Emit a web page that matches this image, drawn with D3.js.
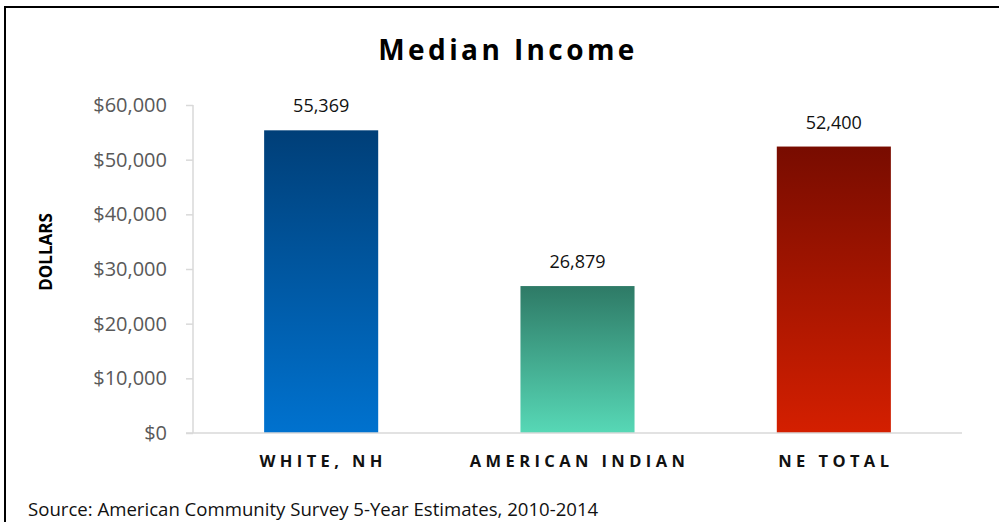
<!DOCTYPE html>
<html>
<head>
<meta charset="utf-8">
<script src="https://cdn.jsdelivr.net/npm/d3@7"></script>
<style>
  body { margin: 0; background: #fff; }
  svg { display: block; font-family: "Open Sans", "Noto Sans", sans-serif; }
</style>
</head>
<body>
<svg id="chart" width="999" height="522"></svg>
<script>
// chart data
var categories = ['WHITE, NH', 'AMERICAN INDIAN', 'NE TOTAL'];
var values = [55369, 26879, 52400];
var yTicks = [0, 10000, 20000, 30000, 40000, 50000, 60000];
var barColours = [
  ['#003f78', '#0072cf'],
  ['#2e7a66', '#57d8b6'],
  ['#780c00', '#d41f00']
];

var svg = d3.select('#chart');

// frame lines (top and left only)
svg.append('line').attr('x1', 5).attr('x2', 999).attr('y1', 7).attr('y2', 7)
  .attr('stroke', '#000').attr('stroke-width', 2);
svg.append('line').attr('x1', 5).attr('x2', 5).attr('y1', 6).attr('y2', 522)
  .attr('stroke', '#000').attr('stroke-width', 2);

var x = d3.scaleBand()
  .domain(categories)
  .range([193, 962])
  .paddingInner(0.555)
  .paddingOuter(0.2775);

var y = d3.scaleLinear().domain([0, 60000]).range([433, 105]);

var defs = svg.append('defs');
barColours.forEach(function(c, i) {
  var g = defs.append('linearGradient').attr('id', 'grad' + i)
    .attr('x1', 0).attr('x2', 0).attr('y1', 0).attr('y2', 1);
  g.append('stop').attr('offset', '0%').attr('stop-color', c[0]);
  g.append('stop').attr('offset', '100%').attr('stop-color', c[1]);
});

// y axis
var yAxis = svg.append('g')
  .attr('transform', 'translate(193,0)')
  .call(d3.axisLeft(y).tickValues(yTicks).tickSize(7).tickPadding(19)
    .tickFormat(function(d) { return '$' + d3.format(',')(d); }));
yAxis.select('.domain').attr('stroke', '#d9d9d9').attr('stroke-width', 1.5)
  .attr('d', 'M0,105V433');
yAxis.selectAll('.tick line').attr('stroke', '#d9d9d9').attr('stroke-width', 1.5);
yAxis.selectAll('.tick text').attr('fill', '#595959')
  .style('font-size', '20px').style('font-family', '"Open Sans", sans-serif');

// bars
svg.selectAll('rect.bar')
  .data(values)
  .enter().append('rect')
  .attr('class', 'bar')
  .attr('x', function(d, i) { return x(categories[i]); })
  .attr('width', x.bandwidth())
  .attr('y', function(d) { return y(d); })
  .attr('height', function(d) { return y(0) - y(d); })
  .attr('fill', function(d, i) { return 'url(#grad' + i + ')'; });

// baseline
svg.append('line').attr('x1', 186).attr('x2', 962).attr('y1', y(0)).attr('y2', y(0))
  .attr('stroke', '#d9d9d9').attr('stroke-width', 1.5);

// value labels
svg.selectAll('text.val')
  .data(values)
  .enter().append('text')
  .attr('class', 'val')
  .attr('x', function(d, i) { return x(categories[i]) + x.bandwidth() / 2; })
  .attr('y', function(d) { return y(d) - 18; })
  .attr('text-anchor', 'middle')
  .style('font-size', '18px')
  .attr('fill', '#111')
  .text(function(d) { return d3.format(',')(d); });

// category labels
svg.selectAll('text.cat')
  .data(categories)
  .enter().append('text')
  .attr('class', 'cat')
  .attr('x', function(d) { return x(d) + x.bandwidth() / 2 + 2; })
  .attr('y', 467)
  .attr('text-anchor', 'middle')
  .style('font-size', '16.5px')
  .style('font-weight', 'bold')
  .style('letter-spacing', '4.4px')
  .attr('fill', '#111')
  .text(function(d) { return d; });

// title
svg.append('text')
  .attr('x', 508).attr('y', 60)
  .attr('text-anchor', 'middle')
  .style('font-size', '28px')
  .style('font-weight', 'bold')
  .style('letter-spacing', '3.4px')
  .attr('fill', '#000')
  .text('Median Income');

// y axis title
svg.append('text')
  .attr('transform', 'translate(52,252) rotate(-90)')
  .attr('text-anchor', 'middle')
  .style('font-size', '17px')
  .style('font-weight', 'bold')
  .attr('fill', '#000')
  .text('DOLLARS');

// source note
svg.append('text')
  .attr('x', 28).attr('y', 516)
  .style('font-size', '18.6px')
  .attr('fill', '#111')
  .text('Source: American Community Survey 5-Year Estimates, 2010-2014');
</script>
</body>
</html>
